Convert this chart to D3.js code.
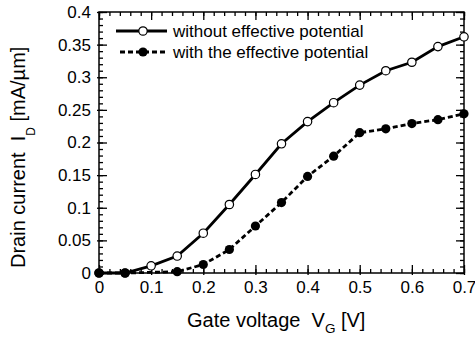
<!DOCTYPE html>
<html>
<head>
<meta charset="utf-8">
<script src="https://cdn.jsdelivr.net/npm/d3@7"></script>
<style>
  body { margin: 0; background: #fff; }
  text { font-family: 'Liberation Sans', Arial, sans-serif; fill: #000; }
</style>
</head>
<body>
<script>
// gate voltage points
const vgWithout = [0, 0.05, 0.1, 0.15, 0.2, 0.25, 0.3, 0.35, 0.4, 0.45, 0.5, 0.55, 0.6, 0.65, 0.7];
const idWithout = [0, 0, 0.011, 0.026, 0.061, 0.105, 0.151, 0.198, 0.232, 0.261, 0.288, 0.310, 0.323, 0.347, 0.362];
const vgWith = [0, 0.05, 0.15, 0.2, 0.25, 0.3, 0.35, 0.4, 0.45, 0.5, 0.55, 0.6, 0.65, 0.7];
const idWith = [0, 0, 0.002, 0.013, 0.036, 0.072, 0.108, 0.148, 0.179, 0.215, 0.221, 0.229, 0.235, 0.244];

const xTicks = [0, 0.1, 0.2, 0.3, 0.4, 0.5, 0.6, 0.7];
const yTicks = [0, 0.05, 0.1, 0.15, 0.2, 0.25, 0.3, 0.35, 0.4];
const xTickLabels = ['0', '0.1', '0.2', '0.3', '0.4', '0.5', '0.6', '0.7'];
const yTickLabels = ['0', '0.05', '0.1', '0.15', '0.2', '0.25', '0.3', '0.35', '0.4'];
const legendLabels = ['without effective potential', 'with the effective potential'];

const W = 475, H = 337;
const pLeft = 99, pRight = 464, pTop = 12, pBottom = 273;

const x = d3.scaleLinear().domain([0, 0.7]).range([pLeft, pRight]);
const y = d3.scaleLinear().domain([0, 0.4]).range([pBottom, pTop]);

const svg = d3.select('body').append('svg')
  .attr('width', W)
  .attr('height', H);

// minor ticks
const xMinor = d3.range(0, 0.7001, 0.02);
const yMinor = d3.range(0, 0.4001, 0.01);

function minor(axis, pos) {
  svg.append('g')
    .attr('transform', pos)
    .call(axis.tickSizeInner(-4).tickSizeOuter(0).tickFormat(''))
    .call(g => g.select('.domain').remove())
    .call(g => g.selectAll('.tick line').attr('stroke-width', 1.3));
}
minor(d3.axisBottom(x).tickValues(xMinor), 'translate(0,' + pBottom + ')');
minor(d3.axisTop(x).tickValues(xMinor), 'translate(0,' + pTop + ')');
minor(d3.axisLeft(y).tickValues(yMinor), 'translate(' + pLeft + ',0)');
minor(d3.axisRight(y).tickValues(yMinor), 'translate(' + pRight + ',0)');

// major ticks with labels
svg.append('g')
  .attr('transform', 'translate(0,' + pBottom + ')')
  .call(d3.axisBottom(x).tickValues(xTicks).tickSizeInner(-8).tickSizeOuter(0).tickPadding(8)
    .tickFormat((d, i) => xTickLabels[i]))
  .call(g => g.select('.domain').remove())
  .call(g => g.selectAll('.tick line').attr('y1', 2).attr('stroke-width', 1.3))
  .call(g => g.selectAll('.tick text').attr('font-size', 17).attr('font-family', null));

svg.append('g')
  .attr('transform', 'translate(' + pLeft + ',0)')
  .call(d3.axisLeft(y).tickValues(yTicks).tickSizeInner(-8).tickSizeOuter(0).tickPadding(8)
    .tickFormat((d, i) => yTickLabels[i]))
  .call(g => g.select('.domain').remove())
  .call(g => g.selectAll('.tick line').attr('x1', -2).attr('stroke-width', 1.3))
  .call(g => g.selectAll('.tick text').attr('font-size', 17).attr('font-family', null));

svg.append('g')
  .attr('transform', 'translate(0,' + pTop + ')')
  .call(d3.axisTop(x).tickValues(xTicks).tickSizeInner(-8).tickSizeOuter(0).tickFormat(''))
  .call(g => g.select('.domain').remove())
  .call(g => g.selectAll('.tick line').attr('stroke-width', 1.3));

svg.append('g')
  .attr('transform', 'translate(' + pRight + ',0)')
  .call(d3.axisRight(y).tickValues(yTicks).tickSizeInner(-8).tickSizeOuter(0).tickFormat(''))
  .call(g => g.select('.domain').remove())
  .call(g => g.selectAll('.tick line').attr('stroke-width', 1.3));

// frame
svg.append('rect')
  .attr('x', pLeft).attr('y', pTop)
  .attr('width', pRight - pLeft).attr('height', pBottom - pTop)
  .attr('fill', 'none').attr('stroke', '#000').attr('stroke-width', 1.5);

// axis titles
const xt = svg.append('text')
  .attr('x', 187).attr('y', 327)
  .attr('font-size', 20);
xt.append('tspan').text('Gate voltage\u00a0\u00a0V');
xt.append('tspan').attr('font-size', 13.5).attr('dy', 6).text('G');
xt.append('tspan').attr('dy', -6).text(' [V]');

const yt = svg.append('text')
  .attr('transform', 'translate(25,268) rotate(-90)')
  .attr('font-size', 20);
yt.append('tspan').text('Drain current\u00a0\u00a0I');
yt.append('tspan').attr('font-size', 12).attr('dy', 10).text('D');
yt.append('tspan').attr('dy', -10).text(' [mA/\u00b5m]');

// series
const line = d3.line().x(d => x(d[0])).y(d => y(d[1]));
const ptsWithout = vgWithout.map((v, i) => [v, idWithout[i]]);
const ptsWith = vgWith.map((v, i) => [v, idWith[i]]);

svg.append('path').datum(ptsWithout)
  .attr('d', line).attr('fill', 'none')
  .attr('stroke', '#000').attr('stroke-width', 2.8);
svg.selectAll('circle.open').data(ptsWithout).enter().append('circle')
  .attr('class', 'open')
  .attr('cx', d => x(d[0])).attr('cy', d => y(d[1])).attr('r', 4.2)
  .attr('fill', '#fff').attr('stroke', '#000').attr('stroke-width', 1.2);

svg.append('path').datum(ptsWith)
  .attr('d', line).attr('fill', 'none')
  .attr('stroke', '#000').attr('stroke-width', 2.8)
  .attr('stroke-dasharray', '5,3');
svg.selectAll('circle.filled').data(ptsWith).enter().append('circle')
  .attr('class', 'filled')
  .attr('cx', d => x(d[0])).attr('cy', d => y(d[1])).attr('r', 4.6)
  .attr('fill', '#000');

// legend
const lg = svg.append('g');
lg.append('line').attr('x1', 116).attr('x2', 167).attr('y1', 31).attr('y2', 31)
  .attr('stroke', '#000').attr('stroke-width', 2.8);
lg.append('circle').attr('cx', 143).attr('cy', 31).attr('r', 4.2)
  .attr('fill', '#fff').attr('stroke', '#000').attr('stroke-width', 1.2);
lg.append('text').attr('x', 173).attr('y', 37).attr('font-size', 17).text(legendLabels[0]);

lg.append('line').attr('x1', 120).attr('x2', 166).attr('y1', 52).attr('y2', 52)
  .attr('stroke', '#000').attr('stroke-width', 2.8).attr('stroke-dasharray', '5,3');
lg.append('circle').attr('cx', 143).attr('cy', 52).attr('r', 4.6).attr('fill', '#000');
lg.append('text').attr('x', 173).attr('y', 58).attr('font-size', 17).text(legendLabels[1]);
</script>
</body>
</html>
